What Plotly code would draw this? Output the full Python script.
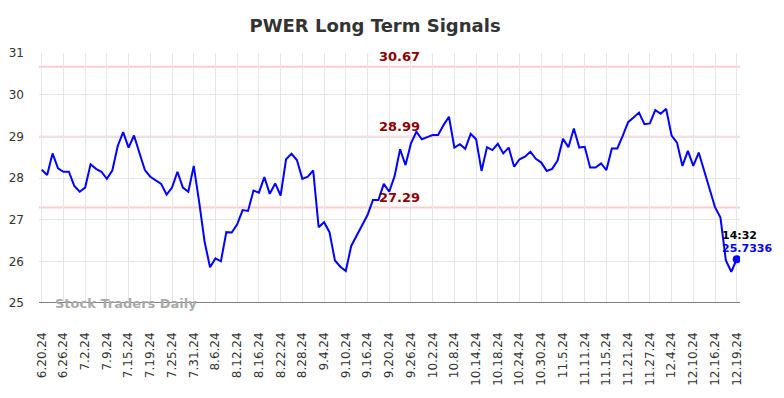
import plotly.graph_objects as go

title = "PWER Long Term Signals"
tick_labels = ["6.20.24", "6.26.24", "7.2.24", "7.9.24", "7.15.24", "7.19.24", "7.25.24", "7.31.24",
               "8.6.24", "8.12.24", "8.16.24", "8.22.24", "8.28.24", "9.4.24", "9.10.24", "9.16.24",
               "9.20.24", "9.26.24", "10.2.24", "10.8.24", "10.14.24", "10.18.24", "10.24.24", "10.30.24",
               "11.5.24", "11.11.24", "11.15.24", "11.21.24", "11.27.24", "12.4.24", "12.10.24", "12.16.24",
               "12.19.24"]
prices = [28.20, 28.07, 28.59, 28.23, 28.15, 28.15, 27.81, 27.67, 27.77, 28.33,
          28.22, 28.15, 27.98, 28.18, 28.77, 29.10, 28.73, 29.02, 28.60, 28.19,
          28.03, 27.95, 27.86, 27.60, 27.77, 28.15, 27.77, 27.67, 28.29, 27.42,
          26.47, 25.86, 26.07, 26.00, 26.70, 26.69, 26.89, 27.23, 27.21, 27.70,
          27.65, 28.02, 27.62, 27.87, 27.58, 28.45, 28.58, 28.43, 27.98, 28.03,
          28.18, 26.82, 26.94, 26.70, 26.02, 25.87, 25.77, 26.37, 26.61, 26.87,
          27.11, 27.47, 27.47, 27.86, 27.67, 28.05, 28.69, 28.31, 28.83, 29.11,
          28.93, 28.98, 29.03, 29.03, 29.27, 29.47, 28.73, 28.81, 28.70, 29.06,
          28.93, 28.17, 28.74, 28.67, 28.82, 28.59, 28.73, 28.27, 28.45, 28.51,
          28.63, 28.46, 28.37, 28.17, 28.22, 28.42, 28.94, 28.74, 29.19, 28.73,
          28.75, 28.25, 28.25, 28.35, 28.19, 28.71, 28.71, 29.01, 29.34, 29.45,
          29.57, 29.29, 29.31, 29.63, 29.54, 29.66, 29.02, 28.85, 28.29, 28.65,
          28.29, 28.61, 28.19, 27.75, 27.30, 27.05, 26.02, 25.75, 26.05]
signal_levels = [30.67, 28.99, 27.29]
last_time = "14:32"
last_price_label = "25.7336"
watermark = "Stock Traders Daily"
tick_step = 4

x = list(range(len(prices)))
tickvals = [i * tick_step for i in range(len(tick_labels))]

fig = go.Figure()
for lvl in signal_levels:
    fig.add_shape(type="line", xref="paper", x0=0, x1=1, y0=lvl, y1=lvl,
                  line=dict(color="#ffcccc", width=2), layer="below")
    fig.add_annotation(x=65.9, y=lvl, text=f"<b>{lvl:.2f}</b>", showarrow=False,
                       yanchor="bottom", yshift=1,
                       font=dict(family="DejaVu Sans", size=13, color="#8b0000"))

fig.add_trace(go.Scatter(x=x, y=prices, mode="lines",
                         line=dict(color="#0000ff", width=2), hoverinfo="skip"))
fig.add_trace(go.Scatter(x=[x[-1]], y=[prices[-1]], mode="markers",
                         marker=dict(color="#0000ff", size=8), hoverinfo="skip"))

fig.add_annotation(x=x[-1], y=prices[-1], text=f"<b>{last_time}</b>", showarrow=False,
                   xanchor="left", yanchor="middle", xshift=-17, yshift=24,
                   font=dict(family="DejaVu Sans", size=11, color="#000000"))
fig.add_annotation(x=x[-1], y=prices[-1], text=f"<b>{last_price_label}</b>", showarrow=False,
                   xanchor="left", yanchor="middle", xshift=-17, yshift=11,
                   font=dict(family="DejaVu Sans", size=11, color="#0000ff"))
fig.add_annotation(xref="paper", yref="paper", x=0.02, y=0, text=f"<b>{watermark}</b>",
                   showarrow=False, xanchor="left", yanchor="middle",
                   font=dict(family="DejaVu Sans", size=13, color="#aaaaaa"))

# page body has an 8px margin; compensate so the chart lands where the reference has it
fig.update_layout(
    width=776, height=390,
    margin=dict(l=31, r=44, t=45, b=95),
    paper_bgcolor="white", plot_bgcolor="white",
    showlegend=False,
    title=dict(text=f"<b>{title}</b>", x=0.473, xref="container", xanchor="center",
               y=0.954, yanchor="middle",
               font=dict(family="DejaVu Sans", size=18, color="#333333")),
    xaxis=dict(range=[-0.5, 128.6], tickvals=tickvals, ticktext=tick_labels, tickangle=-90,
               showgrid=True, gridcolor="#e6e6e6", gridwidth=1, zeroline=False,
               showline=False, ticks="", ticklabelstandoff=26, automargin=False,
               tickfont=dict(family="DejaVu Sans", size=12, color="#333333")),
    yaxis=dict(range=[25, 31], dtick=1, showgrid=True, gridcolor="#e6e6e6", gridwidth=1,
               zeroline=False, showline=False, ticks="", ticklabelstandoff=14, automargin=False,
               tickfont=dict(family="DejaVu Sans", size=12, color="#333333")),
)
fig.add_shape(type="line", xref="paper", yref="y", x0=0, x1=1, y0=25, y1=25,
              line=dict(color="#555555", width=1.5))

fig.write_html("out.html")
